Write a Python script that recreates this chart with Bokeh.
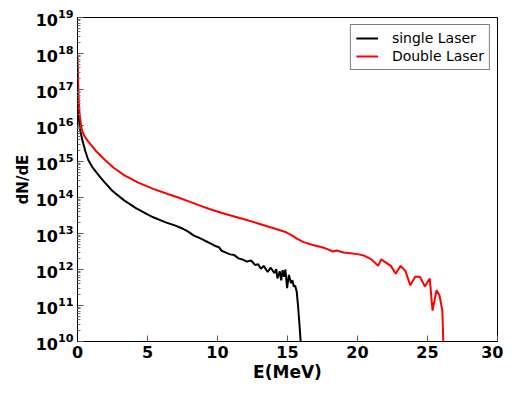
from bokeh.plotting import figure
from bokeh.models import FixedTicker, LogTickFormatter, Legend, LegendItem, Range1d
from bokeh.embed import file_html
from bokeh.resources import INLINE

# ---- data (energies in MeV, spectra as log10(dN/dE)) ----
single_E = [0.00, 0.03, 0.07, 0.12, 0.2, 0.35, 0.55, 0.76, 1.1, 1.59, 1.94, 2.5, 3.33, 4.2, 5.0,
            5.41, 6.3, 7.0, 7.48, 7.9, 8.32, 8.7, 9.0, 9.42, 9.8, 10.1, 10.3, 10.6, 10.9, 11.2,
            11.5, 11.78, 12.1, 12.4, 12.7, 12.89, 13.1, 13.3, 13.58, 13.8, 14.07, 14.2, 14.28,
            14.45, 14.55, 14.65, 14.76, 14.85, 14.97, 15.1, 15.25, 15.35, 15.45, 15.55, 15.66,
            15.75, 15.85, 15.94]
single_log = [17.0, 16.7, 16.4, 16.1, 15.85, 15.59, 15.3, 15.05, 14.82, 14.58, 14.42, 14.18, 13.92,
              13.70, 13.53, 13.45, 13.31, 13.22, 13.14, 13.05, 12.94, 12.88, 12.82, 12.74, 12.66,
              12.62, 12.52, 12.47, 12.42, 12.40, 12.31, 12.28, 12.22, 12.25, 12.12, 12.15, 12.02,
              12.10, 11.93, 12.05, 11.90, 12.01, 11.75, 11.95, 11.70, 11.98, 11.80, 12.00, 11.48,
              11.85, 11.62, 11.70, 11.53, 11.55, 11.38, 11.0, 10.5, 10.0]

double_E = [0.0, 0.03, 0.07, 0.15, 0.3, 0.5, 0.76, 1.3, 1.94, 2.6, 3.33, 4.3, 5.41, 6.5, 7.2, 8.04,
            8.7, 9.42, 10.5, 11.78, 12.9, 14.07, 14.8, 15.25, 15.7, 16.15, 16.8, 17.53, 17.9,
            18.23, 18.5, 19.0, 19.5, 20.1, 20.5, 21.0, 21.48, 21.69, 22.0, 22.38, 22.73, 23.08,
            23.42, 23.77, 24.12, 24.46, 24.81, 25.16, 25.36, 25.64, 25.85, 26.06, 26.13]
double_log = [17.9, 17.5, 16.85, 16.3, 15.9, 15.7, 15.56, 15.30, 15.05, 14.82, 14.62, 14.42, 14.24,
              14.09, 14.0, 13.88, 13.78, 13.68, 13.55, 13.41, 13.28, 13.14, 13.05, 12.96, 12.85,
              12.76, 12.68, 12.61, 12.56, 12.50, 12.53, 12.47, 12.45, 12.42, 12.38, 12.28, 12.10,
              12.28, 12.20, 12.10, 11.88, 12.10, 11.96, 11.56, 11.80, 11.80, 11.53, 11.75, 10.86,
              11.42, 11.29, 10.86, 10.0]

x_ticks = [0, 5, 10, 15, 20, 25, 30]
y_exponents = list(range(10, 20))

single_y = [10 ** v for v in single_log]
double_y = [10 ** v for v in double_log]
y_ticks = [10.0 ** e for e in y_exponents]
y_minor = [m * 10.0 ** e for e in y_exponents[:-1] for m in range(2, 10)]

FONT = "DejaVu Sans"

p = figure(width=503, height=384, y_axis_type="log",
           x_range=Range1d(0, 30), y_range=Range1d(1e10, 1e19),
           output_backend="svg", toolbar_location=None,
           min_border_left=77, min_border_right=6, min_border_top=17, min_border_bottom=29)
p.background_fill_color = "white"
p.border_fill_color = "white"
p.grid.visible = False
p.outline_line_color = "black"
p.outline_line_width = 1

r1 = p.line(single_E, single_y, line_color="black", line_width=2)
r2 = p.line(double_E, double_y, line_color="#ff0000", line_width=2)

xa = p.xaxis[0]
xa.ticker = FixedTicker(ticks=x_ticks, minor_ticks=[])
xa.axis_label = "E(MeV)"
ya = p.yaxis[0]
ya.ticker = FixedTicker(ticks=y_ticks, minor_ticks=y_minor)
ya.formatter = LogTickFormatter()
ya.axis_label = "dN/dE"

for ax in (xa, ya):
    ax.major_label_text_font = FONT
    ax.major_label_text_font_style = "bold"
    ax.major_label_text_font_size = "16px"
    ax.major_label_text_color = "black"
    ax.axis_label_text_font = FONT
    ax.axis_label_text_font_style = "bold"
    ax.axis_label_text_color = "black"
    ax.major_tick_in = 6
    ax.major_tick_out = 0
    ax.minor_tick_in = 3
    ax.minor_tick_out = 0
    ax.major_tick_line_color = "#555555"
    ax.minor_tick_line_color = "#777777"
    ax.axis_line_color = "black"
    ax.major_label_standoff = 4
    ax.axis_label_standoff = 1

xa.axis_label_text_font_size = "17px"
ya.axis_label_text_font_size = "15px"

legend = Legend(items=[LegendItem(label="single Laser", renderers=[r1]),
                       LegendItem(label="Double Laser", renderers=[r2])],
                location="top_right")
legend.border_line_color = "black"
legend.border_line_width = 1
legend.label_text_font = FONT
legend.label_text_font_size = "14px"
legend.label_text_color = "black"
legend.glyph_width = 22
legend.glyph_height = 14
legend.label_standoff = 14
legend.padding = 5
legend.spacing = 2
legend.margin = 7
legend.background_fill_alpha = 1
p.add_layout(legend)

open("out.html", "w").write(file_html(p, INLINE))
